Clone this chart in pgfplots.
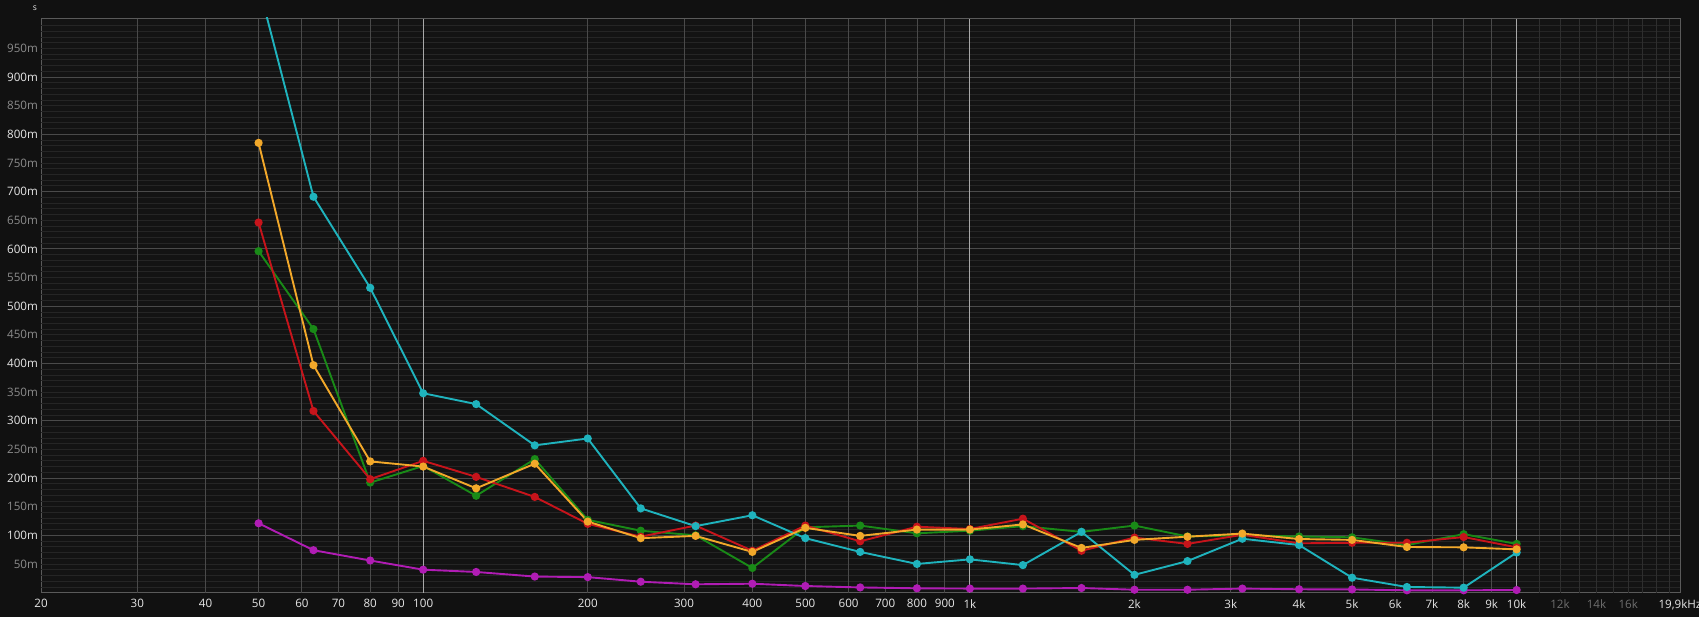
\documentclass[border=0pt]{standalone}
\usepackage{fontspec}
\setmainfont{Open Sans}
\usepackage{pgfplots}
\usepackage{pgfplotstable}
\pgfplotsset{compat=1.18}
\definecolor{pagebg}{HTML}{111111}
\definecolor{plotbg}{HTML}{131313}
\definecolor{gminor}{HTML}{252525}
\definecolor{gmajor}{HTML}{4A4A4A}
\definecolor{gbright}{HTML}{A8A8A8}
\definecolor{gdim}{HTML}{2E2E2E}
\definecolor{axc}{HTML}{5A5A5A}
\definecolor{lblw}{HTML}{E6E6E6}
\definecolor{lblg}{HTML}{8C8C8C}
\definecolor{lbld}{HTML}{6E6E6E}
\definecolor{cyc}{HTML}{1FB3BD}
\definecolor{grc}{HTML}{198A17}
\definecolor{rdc}{HTML}{C7141B}
\definecolor{orc}{HTML}{F2A82A}
\definecolor{mgc}{HTML}{B01CB4}

\pgfplotstableread{
f     cy     gr     rd     or     mg
50    1.06   0.596  0.646  0.785  0.121
63    0.691  0.460  0.317  0.397  0.074
80    0.532  0.192  0.198  0.229  0.056
100   0.348  0.221  0.230  0.220  0.040
125   0.329  0.169  0.202  0.182  0.036
160   0.257  0.233  0.167  0.225  0.028
200   0.269  0.127  0.120  0.124  0.027
250   0.147  0.108  0.0976 0.095  0.019
315   0.116  0.100  0.117  0.099  0.0145
400   0.135  0.043  0.073  0.071  0.0155
500   0.095  0.114  0.117  0.113  0.0115
630   0.071  0.117  0.0895 0.099  0.009
800   0.050  0.1035 0.115  0.110  0.0075
1000  0.058  0.108  0.111  0.110  0.007
1250  0.048  0.116  0.129  0.119  0.007
1600  0.106  0.106  0.073  0.078  0.008
2000  0.031  0.117  0.096  0.092  0.005
2500  0.055  0.098  0.085  0.0976 0.005
3150  0.094  0.100  0.101  0.103  0.007
4000  0.083  0.098  0.086  0.0935 0.0058
5000  0.026  0.0965 0.087  0.092  0.0055
6300  0.0098 0.083  0.087  0.0796 0.004
8000  0.0086 0.102  0.097  0.079  0.004
10000 0.070  0.085  0.079  0.0755 0.0045
}\rtdata

\begin{document}
\begin{tikzpicture}[x=1pt,y=1pt]
\fill[pagebg] (0,0) rectangle (1699,617);
\useasboundingbox (0,0) rectangle (1699,617);
\node[anchor=base, text=lblw, inner sep=0pt, font=\fontsize{8.5}{9}\selectfont] at (35,606) {s};
\begin{axis}[
  at={(41pt,24.4pt)}, anchor=south west,
  scale only axis, width=1639pt, height=574.6pt,
  xmode=log, xmin=20, xmax=19900, ymin=0, ymax=1.003,
  axis line style={draw=axc, line width=0.8pt},
  axis background/.style={fill=plotbg},
  major tick length=0pt, minor tick length=0pt,
  tick style={draw=none},
  xtick={20,30,40,50,60,70,80,90,100,200,300,400,500,600,700,800,900,1000,2000,3000,4000,5000,6000,7000,8000,9000,10000,12000,14000,16000,19900},
  xticklabels={20,30,40,50,60,70,80,90,100,200,300,400,500,600,700,800,900,1k,2k,3k,4k,5k,6k,7k,8k,9k,10k,\textcolor{lbld}{12k},\textcolor{lbld}{14k},\textcolor{lbld}{16k},19{,}9kHz},
  xticklabel style={anchor=north, inner sep=0pt, yshift=-6.5pt, text=lblw, font=\fontsize{11.6}{12}\selectfont},
  ytick={0.05,0.1,0.15,0.2,0.25,0.3,0.35,0.4,0.45,0.5,0.55,0.6,0.65,0.7,0.75,0.8,0.85,0.9,0.95},
  yticklabels={\textcolor{lblg}{50m},100m,\textcolor{lblg}{150m},200m,\textcolor{lblg}{250m},300m,\textcolor{lblg}{350m},400m,\textcolor{lblg}{450m},500m,\textcolor{lblg}{550m},600m,\textcolor{lblg}{650m},700m,\textcolor{lblg}{750m},800m,\textcolor{lblg}{850m},900m,\textcolor{lblg}{950m}},
  yticklabel style={anchor=east, inner sep=0pt, xshift=-3pt, text=lblw, font=\fontsize{11.6}{12}\selectfont},
  every axis plot/.append style={line width=1.9pt, mark=*, mark size=3.1pt, mark options={solid}},
]
% grid
\pgfplotsinvokeforeach{0.01,0.02,0.03,0.04,0.05,0.06,0.07,0.08,0.09,0.11,0.12,0.13,0.14,0.15,0.16,0.17,0.18,0.19,0.21,0.22,0.23,0.24,0.25,0.26,0.27,0.28,0.29,0.31,0.32,0.33,0.34,0.35,0.36,0.37,0.38,0.39,0.41,0.42,0.43,0.44,0.45,0.46,0.47,0.48,0.49,0.51,0.52,0.53,0.54,0.55,0.56,0.57,0.58,0.59,0.61,0.62,0.63,0.64,0.65,0.66,0.67,0.68,0.69,0.71,0.72,0.73,0.74,0.75,0.76,0.77,0.78,0.79,0.81,0.82,0.83,0.84,0.85,0.86,0.87,0.88,0.89,0.91,0.92,0.93,0.94,0.95,0.96,0.97,0.98,0.99}{
  \draw[gminor, line width=0.7pt] (axis cs:20,#1) -- (axis cs:19900,#1);
}
\pgfplotsinvokeforeach{11000,12000,13000,14000,15000,16000,17000,18000,19000}{
  \draw[gdim, line width=0.8pt] (axis cs:#1,0) -- (axis cs:#1,1.003);
}
\pgfplotsinvokeforeach{0.1,0.2,0.3,0.4,0.5,0.6,0.7,0.8,0.9}{
  \draw[gmajor, line width=0.8pt] (axis cs:20,#1) -- (axis cs:19900,#1);
}
\pgfplotsinvokeforeach{30,40,50,60,70,80,90,200,300,400,500,600,700,800,900,2000,3000,4000,5000,6000,7000,8000,9000}{
  \draw[gmajor, line width=0.8pt] (axis cs:#1,0) -- (axis cs:#1,1.003);
}
\pgfplotsinvokeforeach{100,1000,10000}{
  \draw[gbright, line width=0.9pt] (axis cs:#1,0) -- (axis cs:#1,1.003);
}
\draw[axc, line width=0.8pt] (axis cs:19900,0) -- (axis cs:19900,1.003);
\draw[axc, line width=0.8pt] (axis cs:20,1.003) -- (axis cs:19900,1.003);
% data
\addplot[color=mgc] table[x=f,y=mg] {\rtdata};
\addplot[color=grc] table[x=f,y=gr] {\rtdata};
\addplot[color=rdc] table[x=f,y=rd] {\rtdata};
\addplot[color=cyc] table[x=f,y=cy] {\rtdata};
\addplot[color=orc] table[x=f,y=or] {\rtdata};
\end{axis}
\end{tikzpicture}
\end{document}
